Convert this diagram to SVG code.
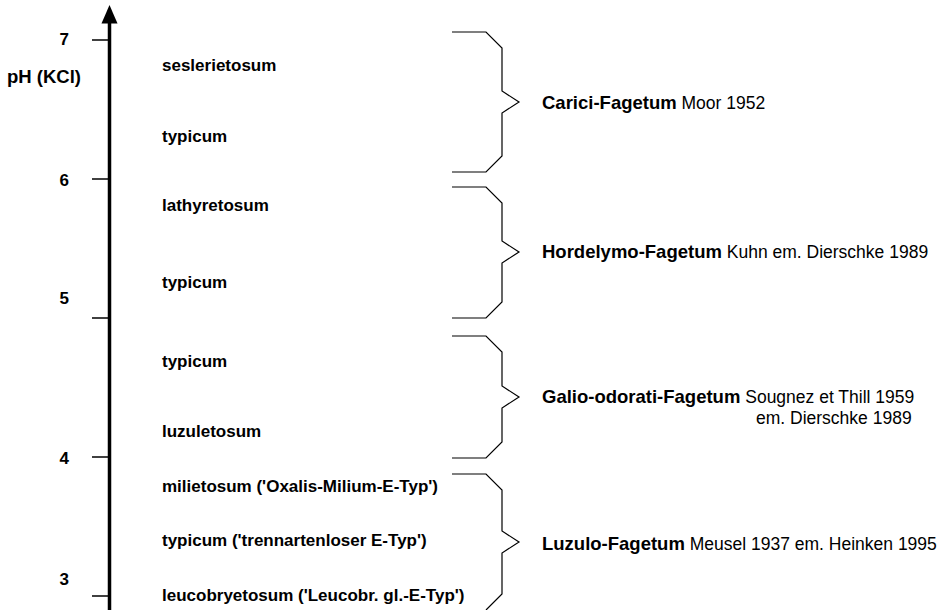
<svg xmlns="http://www.w3.org/2000/svg" width="952" height="610" viewBox="0 0 952 610">
  <style>
    .axis { stroke: #000; stroke-width: 3.5; fill: none; }
    .tick { stroke: #000; stroke-width: 1.5; fill: none; }
    .brace { stroke: #000; stroke-width: 1.2; fill: none; stroke-linejoin: miter; }
    text { font-family: "Liberation Sans", Arial, sans-serif; fill: #000; }
    .num { font-size: 17px; font-weight: bold; text-anchor: end; }
    .unit { font-size: 18.5px; font-weight: bold; }
    .sub { font-size: 17px; font-weight: bold; }
    .assoc { font-size: 18.5px; font-weight: bold; }
    .auth { font-size: 17.5px; font-weight: normal; }
  </style>

  <!-- pH axis with arrowhead and scale -->
  <g id="axis">
    <line class="axis" x1="109.5" y1="22" x2="109.5" y2="610"/>
    <polygon points="109.5,5 101.5,23.5 117.5,23.5" fill="#000"/>
    <line class="tick" x1="92" y1="40" x2="109" y2="40"/>
    <line class="tick" x1="92" y1="179" x2="109" y2="179"/>
    <line class="tick" x1="92" y1="318" x2="109" y2="318"/>
    <line class="tick" x1="92" y1="457" x2="109" y2="457"/>
    <line class="tick" x1="92" y1="596" x2="109" y2="596"/>
    <text class="num" x="69" y="45">7</text>
    <text class="num" x="69" y="186">6</text>
    <text class="num" x="69" y="304">5</text>
    <text class="num" x="69" y="464">4</text>
    <text class="num" x="69" y="585">3</text>
    <text class="unit" x="7" y="83">pH (KCl)</text>
  </g>

  <!-- subassociation labels -->
  <g id="subassociations">
    <text class="sub" x="162" y="71">seslerietosum</text>
    <text class="sub" x="162" y="142">typicum</text>
    <text class="sub" x="162" y="211">lathyretosum</text>
    <text class="sub" x="162" y="288">typicum</text>
    <text class="sub" x="162" y="367">typicum</text>
    <text class="sub" x="162" y="437">luzuletosum</text>
    <text class="sub" x="162" y="492">milietosum ('Oxalis-Milium-E-Typ')</text>
    <text class="sub" x="162" y="546">typicum ('trennartenloser E-Typ')</text>
    <text class="sub" x="162" y="601">leucobryetosum ('Leucobr. gl.-E-Typ')</text>
  </g>

  <!-- braces grouping subassociations into associations -->
  <g id="connectors">
    <path class="brace" d="M452,32 H486 L502,48 V91 L519,102 L502,113 V156 L486,172 H452"/>
    <path class="brace" d="M452,187 H486 L502,203 V241 L519,252 L502,263 V302 L486,318 H452"/>
    <path class="brace" d="M452,336 H486 L502,352 V386 L519,397 L502,408 V442 L486,458 H452"/>
    <path class="brace" d="M452,474 H486 L502,490 V531 L519,542 L502,553 V594 L486,610"/>
  </g>

  <g id="carici-fagetum">
    <text x="542" y="109"><tspan class="assoc">Carici-Fagetum</tspan><tspan class="auth"> Moor 1952</tspan></text>
  </g>
  <g id="hordelymo-fagetum">
    <text x="542" y="258"><tspan class="assoc">Hordelymo-Fagetum</tspan><tspan class="auth"> Kuhn em. Dierschke 1989</tspan></text>
  </g>
  <g id="galio-odorati-fagetum">
    <text x="542" y="403"><tspan class="assoc">Galio-odorati-Fagetum</tspan><tspan class="auth"> Sougnez et Thill 1959</tspan></text>
    <text class="auth" x="756" y="424">em. Dierschke 1989</text>
  </g>
  <g id="luzulo-fagetum">
    <text x="542" y="550"><tspan class="assoc">Luzulo-Fagetum</tspan><tspan class="auth"> Meusel 1937 em. Heinken 1995</tspan></text>
  </g>
</svg>
